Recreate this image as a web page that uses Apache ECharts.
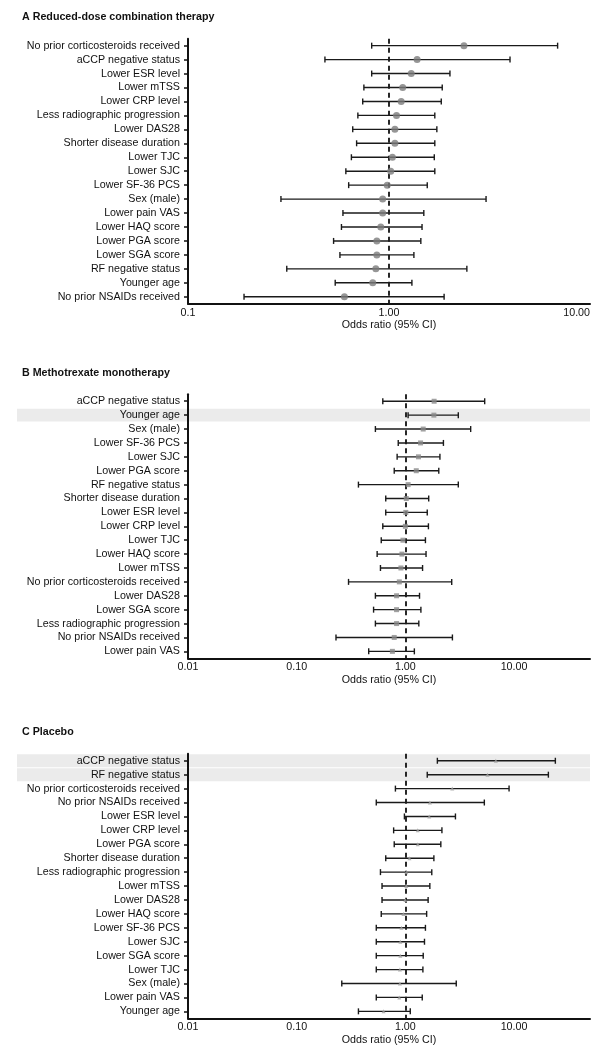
<!DOCTYPE html>
<html>
<head>
<meta charset="utf-8">
<script src="https://cdn.jsdelivr.net/npm/echarts@6/dist/echarts.min.js"></script>
<style>
html,body{margin:0;padding:0;background:#fff;}
#chart{width:600px;height:1051px;}
</style>
</head>
<body>
<div id="chart"></div>
<script>
// ---------- Panel A: Reduced-dose combination therapy ----------
const catsA = ['No prior corticosteroids received','aCCP negative status','Lower ESR level','Lower mTSS','Lower CRP level','Less radiographic progression','Lower DAS28','Shorter disease duration','Lower TJC','Lower SJC','Lower SF-36 PCS','Sex (male)','Lower pain VAS','Lower HAQ score','Lower PGA score','Lower SGA score','RF negative status','Younger age','No prior NSAIDs received'];
const orA  = [2.36,1.38,1.29,1.17,1.15,1.09,1.07,1.07,1.04,1.02,0.98,0.93,0.93,0.91,0.87,0.87,0.86,0.83,0.60];
const loA  = [0.82,0.48,0.82,0.75,0.74,0.70,0.66,0.69,0.65,0.61,0.63,0.29,0.59,0.58,0.53,0.57,0.31,0.54,0.19];
const hiA  = [6.9,4.0,2.01,1.84,1.82,1.69,1.73,1.69,1.68,1.69,1.55,3.04,1.49,1.46,1.44,1.33,2.44,1.30,1.88];
const hlA  = [];

// ---------- Panel B: Methotrexate monotherapy ----------
const catsB = ['aCCP negative status','Younger age','Sex (male)','Lower SF-36 PCS','Lower SJC','Lower PGA score','RF negative status','Shorter disease duration','Lower ESR level','Lower CRP level','Lower TJC','Lower HAQ score','Lower mTSS','No prior corticosteroids received','Lower DAS28','Lower SGA score','Less radiographic progression','No prior NSAIDs received','Lower pain VAS'];
const orB  = [1.84,1.83,1.46,1.38,1.32,1.26,1.06,1.02,1.01,1.00,0.95,0.93,0.91,0.88,0.83,0.83,0.83,0.79,0.76];
const loB  = [0.62,1.06,0.53,0.86,0.84,0.79,0.37,0.66,0.66,0.62,0.60,0.55,0.59,0.30,0.53,0.51,0.53,0.23,0.46];
const hiB  = [5.37,3.07,3.99,2.24,2.08,2.03,3.07,1.64,1.59,1.63,1.53,1.55,1.44,2.67,1.35,1.39,1.33,2.71,1.21];
const hlB  = ['Younger age'];

// ---------- Panel C: Placebo ----------
const catsC = ['aCCP negative status','RF negative status','No prior corticosteroids received','No prior NSAIDs received','Lower ESR level','Lower CRP level','Lower PGA score','Shorter disease duration','Less radiographic progression','Lower mTSS','Lower DAS28','Lower HAQ score','Lower SF-36 PCS','Lower SJC','Lower SGA score','Lower TJC','Sex (male)','Lower pain VAS','Younger age'];
const orC  = [6.8,5.7,2.70,1.68,1.66,1.30,1.30,1.09,1.02,1.02,1.00,0.96,0.92,0.90,0.90,0.89,0.89,0.88,0.63];
const loC  = [1.97,1.59,0.81,0.54,0.98,0.78,0.79,0.66,0.59,0.61,0.61,0.60,0.54,0.54,0.54,0.54,0.26,0.54,0.37];
const hiC  = [24,20.7,9.0,5.33,2.89,2.17,2.12,1.83,1.75,1.68,1.62,1.57,1.53,1.50,1.46,1.45,2.94,1.43,1.11];
const hlC  = ['aCCP negative status','RF negative status'];

// ---------- Axis ticks ----------
const tickValsA = [0.1, 1, 10];
const tickTextA = ['0.1', '1.00', '10.00'];
const tickValsBC = [0.01, 0.1, 1, 10];
const tickTextBC = ['0.01', '0.10', '1.00', '10.00'];

const titles = ['A Reduced-dose combination therapy', 'B Methotrexate monotherapy', 'C Placebo'];
const axisName = 'Odds ratio (95% CI)';

const FONT = '"Liberation Sans", Arial, sans-serif';
const FS = 10.7;

const panels = [
  {cats: catsA, or: orA, lo: loA, hi: hiA, hl: hlA, min: 0.1, max: 10, tv: tickValsA, tt: tickTextA,
   top: 38.7, bottom: 1051 - 303.7, titleTop: 7, sym: 'circle', symSize: 7, symColor: '#7c7c7c', labelMargin: 4, nameGap: 16},
  {cats: catsB, or: orB, lo: loB, hi: hiB, hl: hlB, min: 0.01, max: 50, tv: tickValsBC, tt: tickTextBC,
   top: 394.3, bottom: 1051 - 658.3, titleTop: 363, sym: 'rect', symSize: 5, symColor: '#8a8a8a', labelMargin: 3, nameGap: 16},
  {cats: catsC, or: orC, lo: loC, hi: hiC, hl: hlC, min: 0.01, max: 50, tv: tickValsBC, tt: tickTextBC,
   top: 753.8, bottom: 1051 - 1018.3, titleTop: 722, sym: 'triangle', symSize: 4, symColor: '#a0a0a0', labelMargin: 3, nameGap: 16}
];

function fmt(p) {
  return function (v) {
    for (let i = 0; i < p.tv.length; i++) {
      if (Math.abs(Math.log10(v) - Math.log10(p.tv[i])) < 1e-6) return p.tt[i];
    }
    return '';
  };
}

const option = {
  backgroundColor: '#fff',
  animation: false,
  title: panels.map((p, i) => ({
    text: titles[i], left: 17, top: p.titleTop,
    textStyle: {fontFamily: FONT, fontSize: FS, fontWeight: 'bold', color: '#111'}
  })),
  grid: panels.map(p => ({left: 188, right: 10, top: p.top, bottom: p.bottom, containLabel: false})),
  xAxis: panels.map((p, i) => {
    const ax = {
      type: 'log', logBase: 10, gridIndex: i, min: p.min, max: p.max,
      name: axisName, nameLocation: 'middle', nameGap: p.nameGap,
      nameTextStyle: {fontFamily: FONT, fontSize: FS, color: '#111'},
      axisLine: {show: true, lineStyle: {color: '#111', width: 2}},
      axisTick: {show: false},
      splitLine: {show: false},
      axisLabel: {fontFamily: FONT, fontSize: FS, color: '#111', margin: p.labelMargin, formatter: fmt(p)}
    };
    if (i === 0) ax.axisLabel.alignMaxLabel = 'right';
    return ax;
  }),
  yAxis: panels.map((p, i) => ({
    type: 'category', gridIndex: i, data: p.cats, inverse: true,
    axisLine: {show: true, lineStyle: {color: '#111', width: 2}},
    axisTick: {show: true, alignWithLabel: true, length: 4, lineStyle: {color: '#111', width: 1.5}},
    splitLine: {show: false},
    axisLabel: {fontFamily: FONT, fontSize: FS, color: '#111', margin: 8, interval: 0}
  })),
  series: []
};

panels.forEach((p, i) => {
  option.series.push({
    type: 'custom', coordinateSystem: 'cartesian2d', xAxisIndex: i, yAxisIndex: i, z: 3,
    data: p.cats.map((c, k) => [p.lo[k], k, p.hi[k]]),
    renderItem: function (params, api) {
      const k = api.value(1);
      const a = api.coord([api.value(0), k]);
      const b = api.coord([api.value(2), k]);
      const h = 3;
      const st = {stroke: '#1a1a1a', lineWidth: 1.4};
      return {type: 'group', children: [
        {type: 'line', shape: {x1: a[0], y1: a[1], x2: b[0], y2: b[1]}, style: st},
        {type: 'line', shape: {x1: a[0], y1: a[1] - h, x2: a[0], y2: a[1] + h}, style: st},
        {type: 'line', shape: {x1: b[0], y1: b[1] - h, x2: b[0], y2: b[1] + h}, style: st}
      ]};
    }
  });
  option.series.push({
    type: 'scatter', xAxisIndex: i, yAxisIndex: i, z: 4,
    symbol: p.sym, symbolSize: p.symSize,
    itemStyle: {color: p.symColor},
    data: p.cats.map((c, k) => [p.or[k], k]),
    markLine: {
      silent: true, symbol: 'none', label: {show: false}, z: 2,
      lineStyle: {color: '#111', width: 1.8, type: [5, 4]},
      data: [{xAxis: 1}]
    }
  });
});

const chart = echarts.init(document.getElementById('chart'), null, {renderer: 'canvas'});
chart.setOption(option);

// Highlight bands for significant rows, positioned through the category axes
const graphics = [];
panels.forEach((p, i) => {
  const n = p.cats.length;
  const y0 = chart.convertToPixel({yAxisIndex: i}, 0);
  const y1 = chart.convertToPixel({yAxisIndex: i}, n - 1);
  const band = Math.abs(y1 - y0) / (n - 1);
  const xr = chart.convertToPixel({xAxisIndex: i}, p.max);
  p.hl.forEach(c => {
    const yc = chart.convertToPixel({yAxisIndex: i}, p.cats.indexOf(c));
    graphics.push({
      type: 'rect', z: -10, silent: true,
      shape: {x: 17, y: yc - band / 2 + 0.5, width: xr - 17, height: band - 1},
      style: {fill: '#ebebeb'}
    });
  });
});
chart.setOption({graphic: graphics});
</script>
</body>
</html>
